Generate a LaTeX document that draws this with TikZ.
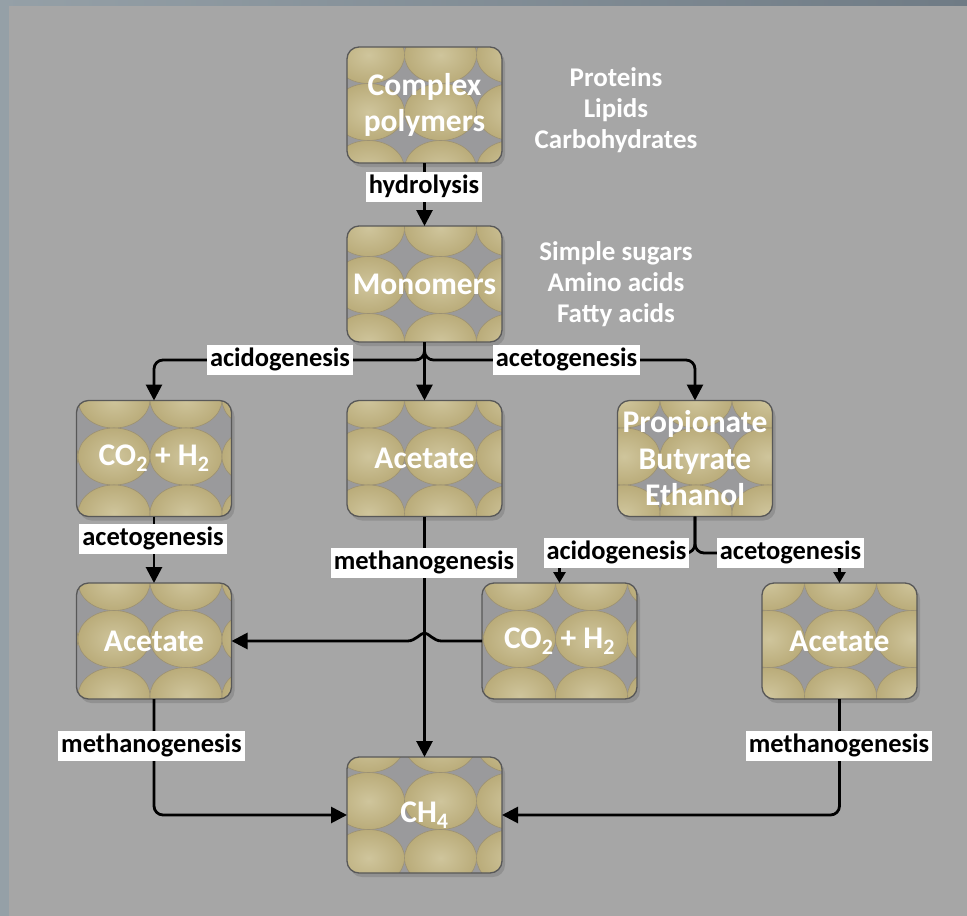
\documentclass[tikz,border=0pt]{standalone}
\usepackage{fontspec}
\setmainfont{Carlito}
\usetikzlibrary{arrows.meta}
\definecolor{bgc}{HTML}{A6A6A6}
\definecolor{bordL}{HTML}{95A0A7}
\definecolor{bordR}{HTML}{6F7B85}
\definecolor{cellgray}{HTML}{9A9A9C}
\definecolor{tanlight}{HTML}{CFC59C}
\definecolor{tandark}{HTML}{BAAC7A}
\definecolor{tanedge}{HTML}{9C9172}
\definecolor{boxline}{HTML}{585858}
\newcommand\boxfont{\fontsize{31.5}{36.5}\selectfont\bfseries}
\newcommand\sidefont{\fontsize{27}{31}\selectfont\bfseries}
\newcommand\lblfont{\fontsize{26.5}{30}\selectfont\bfseries}
\tikzset{
  x=1pt, y=-1pt,
  boxtext/.style={text=white, font=\boxfont, align=center, minimum width=155pt, minimum height=116pt, inner sep=0pt, outer sep=0pt},
  sidetext/.style={text=white, font=\sidefont, align=center},
  elabel/.style={fill=white, text=black, font=\lblfont, inner xsep=3pt, inner ysep=2.5pt, text height=19pt, text depth=6pt},
  conn/.style={draw=black, line width=2.8pt, rounded corners=9pt, -{Triangle[length=16pt,width=16pt]}},
  connsmall/.style={draw=black, line width=2.8pt, rounded corners=9pt, -{Triangle[length=11pt,width=12pt]}},
}
% name, cx, cy, dx, dy, text
\newcommand\procbox[6]{%
  \fill[black,opacity=0.12,rounded corners=12pt] ({#2-74.5},{#3-54}) rectangle ({#2+80.5},{#3+62});
  \begin{scope}
    \clip[rounded corners=12pt] ({#2-77.5},{#3-58}) rectangle ({#2+77.5},{#3+58});
    \fill[cellgray] ({#2-77.5},{#3-58}) rectangle ({#2+77.5},{#3+58});
    \foreach \i in {-2,...,2}{\foreach \j in {-2,...,2}{
      \shade[inner color=tanlight, outer color=tandark] ({#2+(#4)+72*\i},{#3+(#5)+57*\j}) ellipse [x radius=36pt, y radius=28.5pt];
      \draw[tanedge, line width=0.6pt] ({#2+(#4)+72*\i},{#3+(#5)+57*\j}) ellipse [x radius=36pt, y radius=28.5pt];
    }}
  \end{scope}
  \draw[boxline, line width=1.3pt, rounded corners=12pt] ({#2-77.5},{#3-58}) rectangle ({#2+77.5},{#3+58});
  \node[boxtext] (#1) at (#2,#3) {#6};
}
\begin{document}
\begin{tikzpicture}
\useasboundingbox (0,0) rectangle (967,916);
% background
\fill[bgc] (0,0) rectangle (967,916);
\fill[bordL] (0,0) rectangle (9,916);
\shade[left color=bordL, right color=bordR] (0,0) rectangle (967,5);

% boxes
\procbox{cp}{424.5}{105}{-56}{7}{Complex\\polymers}
\procbox{mono}{424.5}{284}{-56}{1}{Monomers}
\procbox{co2a}{154}{458.5}{-40}{-2}{CO\textsubscript{2} + H\textsubscript{2}}
\procbox{acm}{424.5}{458.5}{-56}{-2}{Acetate}
\procbox{prop}{695}{458.5}{-71}{-2}{Propionate\\Butyrate\\Ethanol}
\procbox{acl}{154}{641}{-40}{-2}{Acetate}
\procbox{co2b}{559.5}{641}{-40}{-2}{CO\textsubscript{2} + H\textsubscript{2}}
\procbox{acr}{839.5}{641}{-71}{-2}{Acetate}
\procbox{ch4}{424.5}{815}{-56}{-14}{CH\textsubscript{4}}

% side texts
\node[sidetext] (s1) at (616,110) {Proteins\\Lipids\\Carbohydrates};
\node[sidetext] (s2) at (616,284) {Simple sugars\\Amino acids\\Fatty acids};

% junction coordinates
\coordinate (j1) at (424.5,360);
\coordinate (j2) at (695,553);
\coordinate (hop) at (acm.center |- co2b.west);

% connectors
\draw[conn] (cp.south) -- (mono.north);
\draw[conn] (mono.south) -- (j1) -| (co2a.north);
\draw[conn] (mono.south) -- (j1) -| (prop.north);
\draw[conn] (mono.south) -- (acm.north);
\draw[conn] (co2a.south) -- (acl.north);
\draw[conn] (acm.south) -- (ch4.north);
\draw[connsmall] (prop.south) -- (j2) -| (co2b.north);
\draw[connsmall] (prop.south) -- (j2) -| (acr.north);
\draw[conn, sharp corners] (co2b.west) -- ([xshift=17pt]hop)
  .. controls ([xshift=9pt]hop) and ([xshift=4pt,yshift=8pt]hop) .. ([yshift=8pt]hop)
  .. controls ([xshift=-4pt,yshift=8pt]hop) and ([xshift=-9pt]hop) .. ([xshift=-17pt]hop)
  -- (acl.east);
\draw[conn] (acl.south) |- (ch4.west);
\draw[conn] (acr.south) |- (ch4.east);

% edge labels
\node[elabel] (l1) at (424,187) {hydrolysis};
\node[elabel] (l2) at (280,360) {acidogenesis};
\node[elabel] (l3) at (566.5,360) {acetogenesis};
\node[elabel] (l4) at (153,539) {acetogenesis};
\node[elabel] (l5) at (424,563) {methanogenesis};
\node[elabel] (l6) at (616.5,553) {acidogenesis};
\node[elabel] (l7) at (790.5,553) {acetogenesis};
\node[elabel] (l8) at (151.5,746) {methanogenesis};
\node[elabel] (l9) at (839,746) {methanogenesis};
\end{tikzpicture}
\end{document}
